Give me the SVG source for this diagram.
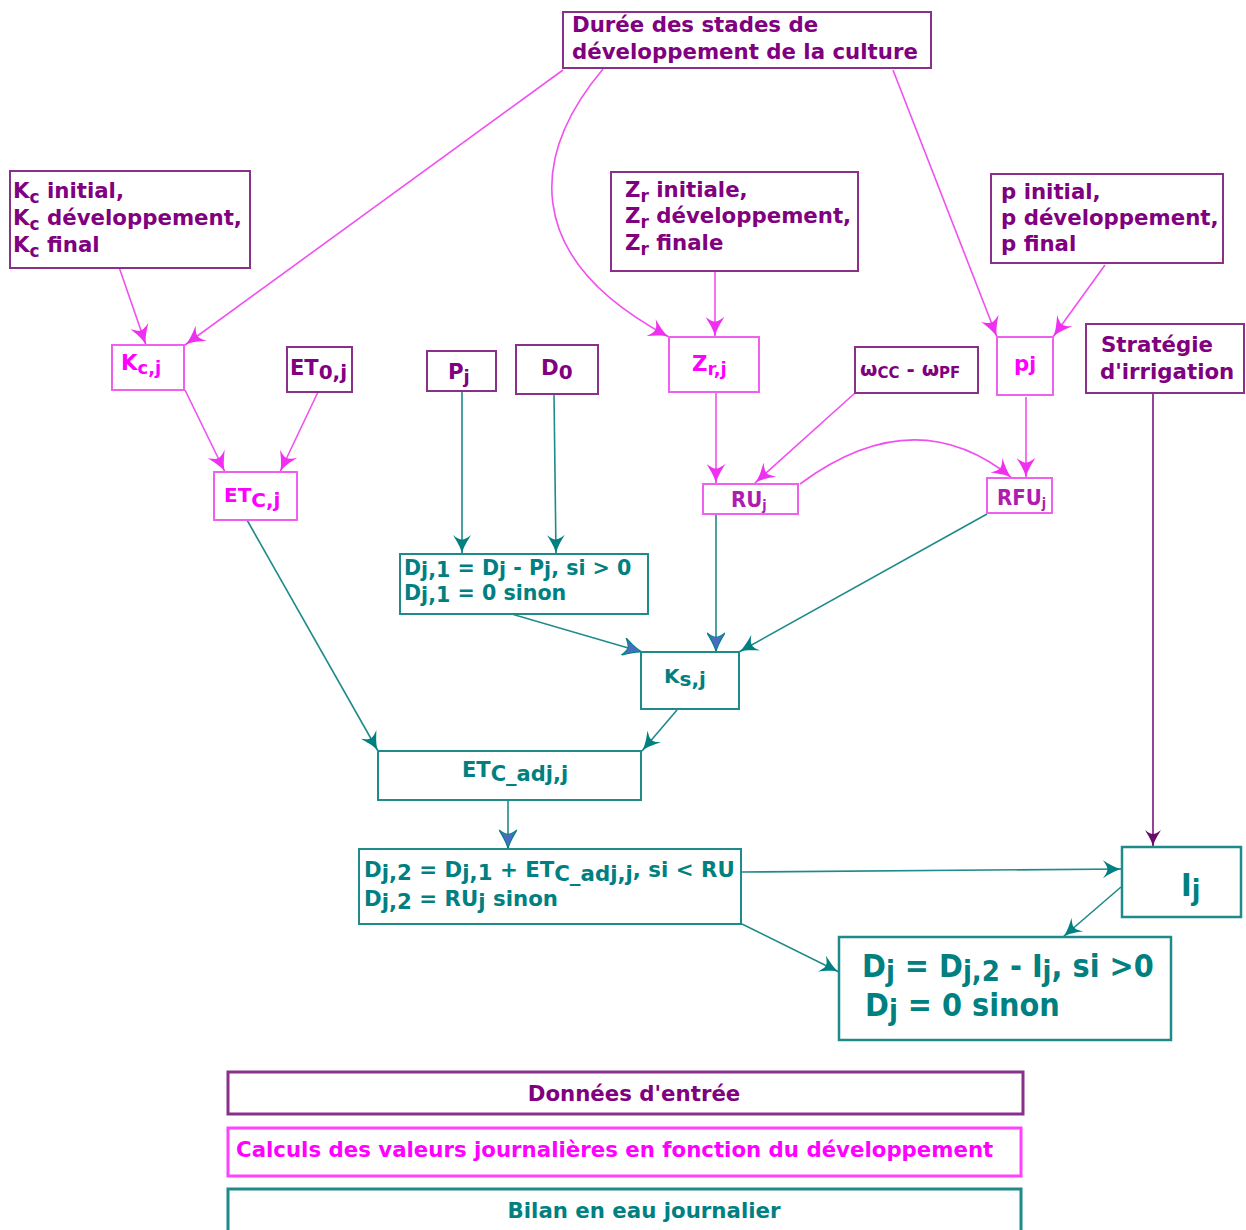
<svg xmlns="http://www.w3.org/2000/svg" width="1246" height="1230" viewBox="0 0 1246 1230" font-size="21.3">
<style>
text{font-family:'DejaVu Sans','Verdana',sans-serif;font-weight:bold}
.cd{font-family:'DejaVu Sans Condensed','DejaVu Sans',sans-serif}
.tp{fill:#800080}
.tm{fill:#ff00ff}
.tt{fill:#008080}
.bp{fill:#fff;stroke:#8a2f8a;stroke-width:2}
.bm{fill:#fff;stroke:#f060f0;stroke-width:2}
.bt{fill:#fff;stroke:#1f8a8a;stroke-width:2}
.cm{fill:none;stroke:#f050f0;stroke-width:1.6}
.ct{fill:none;stroke:#1f8a8a;stroke-width:1.6}
.cp{fill:none;stroke:#8a2f8a;stroke-width:1.8}
</style>
<defs>
<marker id="am" viewBox="0 0 18 16" refX="18" refY="8" markerWidth="22" markerHeight="19" orient="auto" markerUnits="userSpaceOnUse"><path d="M18,8 C12,7 6,3 1,0 C4,4 5,6 5,8 C5,10 4,12 1,16 C6,13 12,9 18,8 Z" fill="#f030f0"/></marker>
<marker id="at" viewBox="0 0 18 16" refX="18" refY="8" markerWidth="22" markerHeight="18" orient="auto" markerUnits="userSpaceOnUse"><path d="M18,8 C12,7 6,3 1,0 C4,4 5,6 5,8 C5,10 4,12 1,16 C6,13 12,9 18,8 Z" fill="#008080"/></marker>
<marker id="ab" viewBox="0 0 18 16" refX="18" refY="8" markerWidth="22" markerHeight="18" orient="auto" markerUnits="userSpaceOnUse"><path d="M18,8 C12,7 6,3 1,0 C4,4 5,6 5,8 C5,10 4,12 1,16 C6,13 12,9 18,8 Z" fill="#4a6ac8" stroke="#008080" stroke-width="1"/></marker>
<marker id="ap" viewBox="0 0 18 16" refX="18" refY="8" markerWidth="20" markerHeight="16" orient="auto" markerUnits="userSpaceOnUse"><path d="M18,8 C12,7 6,3 1,0 C4,4 5,6 5,8 C5,10 4,12 1,16 C6,13 12,9 18,8 Z" fill="#6a0a6a"/></marker>
</defs>

<g id="connectors">
<path class="cm" d="M563,70 L185,345" marker-end="url(#am)"/>
<path class="cm" d="M603,69 C535,150 515,255 669,337" marker-end="url(#am)"/>
<path class="cm" d="M893,70 L997,337" marker-end="url(#am)"/>
<path class="cm" d="M119,267 L146,345" marker-end="url(#am)"/>
<path class="cm" d="M715,271 L715,337" marker-end="url(#am)"/>
<path class="cm" d="M1105,265 L1053,337" marker-end="url(#am)"/>
<path class="cm" d="M185,390 L225,472" marker-end="url(#am)"/>
<path class="cm" d="M318,392 L280,472" marker-end="url(#am)"/>
<path class="cm" d="M716,392 L716,484" marker-end="url(#am)"/>
<path class="cm" d="M855,393 L755,483" marker-end="url(#am)"/>
<path class="cm" d="M1026,397 L1026,478" marker-end="url(#am)"/>
<path class="cm" d="M800,484 Q915,399 1012,478" marker-end="url(#am)"/>
<path class="ct" d="M462,391 L462,554" marker-end="url(#at)"/>
<path class="ct" d="M554,394 L556,554" marker-end="url(#at)"/>
<path class="ct" d="M247,520 L378,751" marker-end="url(#at)"/>
<path class="ct" d="M508,613 L642,652" marker-end="url(#ab)"/>
<path class="ct" d="M716,514 L716,652" marker-end="url(#ab)"/>
<path class="ct" d="M987,514 L739,652" marker-end="url(#at)"/>
<path class="ct" d="M677,710 L642,751" marker-end="url(#at)"/>
<path class="ct" d="M508,800 L508,849" marker-end="url(#ab)"/>
<path class="ct" d="M742,872 L1122,869" marker-end="url(#at)"/>
<path class="ct" d="M1121,887 L1063,937" marker-end="url(#at)"/>
<path class="ct" d="M742,924 L839,972" marker-end="url(#at)"/>
<path class="cp" d="M1153,393 L1153,847" marker-end="url(#ap)"/>
</g>

<g id="n-duree"><rect class="bp" x="563" y="12" width="368" height="56"/>
<text class="tp" x="572" y="32">Durée des stades de</text>
<text class="tp" x="572" y="59">développement de la culture</text></g>

<g id="n-kc"><rect class="bp" x="10" y="171" width="240" height="97"/>
<text class="tp" x="13" y="198">K<tspan dy="5" font-size="17">c</tspan><tspan dy="-5"> initial,</tspan></text>
<text class="tp" x="13" y="225">K<tspan dy="5" font-size="17">c</tspan><tspan dy="-5"> développement,</tspan></text>
<text class="tp" x="13" y="252">K<tspan dy="5" font-size="17">c</tspan><tspan dy="-5"> final</tspan></text></g>

<g id="n-zr"><rect class="bp" x="611" y="172" width="247" height="99"/>
<text class="tp" x="625" y="197">Z<tspan dy="5" font-size="17">r</tspan><tspan dy="-5"> initiale,</tspan></text>
<text class="tp" x="625" y="223">Z<tspan dy="5" font-size="17">r</tspan><tspan dy="-5"> développement,</tspan></text>
<text class="tp" x="625" y="250">Z<tspan dy="5" font-size="17">r</tspan><tspan dy="-5"> finale</tspan></text></g>

<g id="n-p"><rect class="bp" x="991" y="174" width="232" height="89"/>
<text class="tp" x="1001" y="199">p initial,</text>
<text class="tp" x="1001" y="225">p développement,</text>
<text class="tp" x="1001" y="251">p final</text></g>

<g id="n-kcj"><rect class="bm" x="112" y="345" width="72" height="45"/>
<text class="tm" x="121" y="370">K<tspan dy="4" font-size="18">c,j</tspan></text></g>

<g id="n-et0"><rect class="bp" x="287" y="347" width="65" height="45"/>
<text class="tp" x="290" y="375" font-size="21">ET<tspan dy="4" font-size="20">0,j</tspan></text></g>

<g id="n-pj"><rect class="bp" x="427" y="351" width="69" height="40"/>
<text class="tp" x="448" y="379">P<tspan dy="4" font-size="18">j</tspan></text></g>

<g id="n-d0"><rect class="bp" x="516" y="345" width="82" height="49"/>
<text class="tp" x="541" y="375">D<tspan dy="4" font-size="20">0</tspan></text></g>

<g id="n-zrj"><rect class="bm" x="669" y="337" width="90" height="55"/>
<text class="tm" x="692" y="371">Z<tspan dy="4" font-size="18">r,j</tspan></text></g>

<g id="n-omega"><rect class="bp" x="855" y="347" width="123" height="46"/>
<text class="tp" x="860" y="376" font-size="20">ω<tspan dy="2" font-size="15">CC</tspan><tspan dy="-2"> - ω</tspan><tspan dy="2" font-size="15">PF</tspan></text></g>

<g id="n-pjj"><rect class="bm" x="997" y="337" width="56" height="58"/>
<text class="tm" x="1014" y="371">p<tspan font-size="20">j</tspan></text></g>

<g id="n-strat"><rect class="bp" x="1086" y="324" width="158" height="69"/>
<text class="tp" x="1101" y="352">Stratégie</text>
<text class="tp" x="1100" y="379">d'irrigation</text></g>

<g id="n-etcj"><rect class="bm" x="214" y="472" width="83" height="48"/>
<text class="tm" x="224" y="502" font-size="20">ET<tspan dy="5" font-size="20">C,j</tspan></text></g>

<g id="n-ru"><rect class="bm" x="703" y="484" width="95" height="30"/>
<text class="cd" x="731" y="507" font-size="22" fill="#b01cb0">RU<tspan dy="3" font-size="14">j</tspan></text></g>

<g id="n-rfu"><rect class="bm" x="987" y="478" width="65" height="35"/>
<text class="cd" x="997" y="505" font-size="22" fill="#b01cb0">RFU<tspan dy="3" font-size="14">j</tspan></text></g>

<g id="n-dj1"><rect class="bt" x="400" y="554" width="248" height="60"/>
<text class="tt" x="404" y="575" font-size="20.6">D<tspan dy="2">j,1</tspan><tspan dy="-2"> = D</tspan><tspan dy="2">j</tspan><tspan dy="-2"> - P</tspan><tspan dy="2">j</tspan><tspan dy="-2">, si &gt; 0</tspan></text>
<text class="tt" x="404" y="600" font-size="20.6">D<tspan dy="2">j,1</tspan><tspan dy="-2"> =  0 sinon</tspan></text></g>

<g id="n-ks"><rect class="bt" x="641" y="652" width="98" height="57"/>
<text class="tt" x="664" y="683" font-size="20">K<tspan dy="3" font-size="20">s,j</tspan></text></g>

<g id="n-etcadj"><rect class="bt" x="378" y="751" width="263" height="49"/>
<text class="tt" x="462" y="777" font-size="21">ET<tspan dy="4">C_adj,j</tspan></text></g>

<g id="n-dj2"><rect class="bt" x="359" y="849" width="382" height="75"/>
<text class="tt" x="364" y="877" font-size="21.3">D<tspan dy="3">j,2</tspan><tspan dy="-3"> = D</tspan><tspan dy="3">j,1</tspan><tspan dy="-3"> + ET</tspan><tspan dy="4">C_adj,j</tspan><tspan dy="-4">, si &lt; RU</tspan></text>
<text class="tt" x="364" y="906" font-size="21.3">D<tspan dy="3">j,2</tspan><tspan dy="-3"> =  RU</tspan><tspan dy="3">j</tspan><tspan dy="-3"> sinon</tspan></text></g>

<g id="n-ij"><rect class="bt" x="1122" y="847" width="119" height="70" style="stroke-width:2.5"/>
<text class="cd tt" x="1181" y="896" font-size="32">I<tspan dy="4" font-size="28">j</tspan></text></g>

<g id="n-dj"><rect class="bt" x="839" y="937" width="332" height="103" style="stroke-width:2.5"/>
<text class="cd tt" x="862" y="977" font-size="32">D<tspan dy="4" font-size="29">j</tspan><tspan dy="-4"> = D</tspan><tspan dy="4" font-size="29">j,2</tspan><tspan dy="-4"> - I</tspan><tspan dy="4" font-size="29">j</tspan><tspan dy="-4">, si &gt;0</tspan></text>
<text class="cd tt" x="865" y="1016" font-size="32">D<tspan dy="4" font-size="29">j</tspan><tspan dy="-4"> = 0 sinon</tspan></text></g>

<g id="legend">
<rect x="228" y="1072" width="795" height="42" fill="#fff" stroke="#8a2f8a" stroke-width="3"/>
<text class="tp" x="634" y="1101" text-anchor="middle">Données d'entrée</text>
<rect x="228" y="1128" width="793" height="48" fill="#fff" stroke="#ff40ff" stroke-width="3"/>
<text class="tm" x="236" y="1157">Calculs des valeurs journalières en fonction du développement</text>
<rect x="228" y="1189" width="793" height="50" fill="#fff" stroke="#1f8a8a" stroke-width="3"/>
<text class="tt" x="644" y="1218" text-anchor="middle">Bilan en eau journalier</text>
</g>
</svg>
